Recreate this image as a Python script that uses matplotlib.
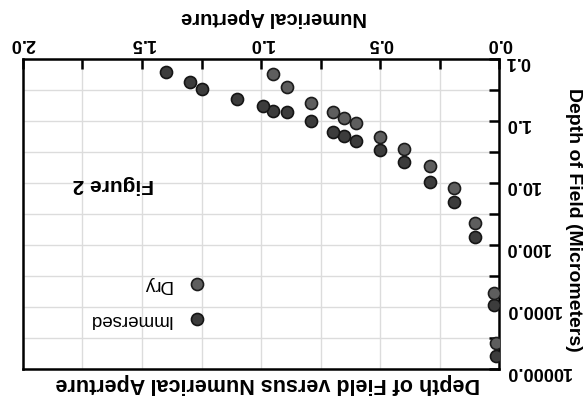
import numpy as np
import matplotlib.pyplot as plt
from matplotlib.ticker import FixedLocator, FixedFormatter, NullFormatter

plt.rcParams["font.family"] = ["Liberation Sans", "DejaVu Sans"]

dry_na  = [0.013, 0.021, 0.10, 0.19, 0.29, 0.40, 0.50, 0.60, 0.65, 0.70, 0.79, 0.89, 0.95]
dry_dof = [3800, 590, 44, 12.2, 5.3, 2.86, 1.79, 1.06, 0.90, 0.71, 0.51, 0.28, 0.177]

imm_na  = [0.013, 0.021, 0.10, 0.19, 0.29, 0.40, 0.50, 0.60, 0.65, 0.70, 0.79,
           0.89, 0.95, 0.99, 1.10, 1.25, 1.30, 1.40]
imm_dof = [6200, 930, 75, 20, 9.5, 4.6, 2.94, 2.08, 1.75, 1.49, 0.99,
           0.72, 0.68, 0.57, 0.44, 0.30, 0.23, 0.164]

xticks_major = [0.0, 0.5, 1.0, 1.5, 2.0]
xticks_minor = [0.25, 0.75, 1.25, 1.75]
yticks_major = [0.1, 1, 10, 100, 1000, 10000]
ytick_labels = ["0.1", "1.0", "10.0", "100.0", "1000.0", "10000.0"]
yticks_minor = [10 ** (k + 0.5) for k in range(-1, 4)]

fig = plt.figure(figsize=(5.86, 4.19), dpi=100)
ax = fig.add_axes([0.039, 0.119, 0.813, 0.740])

# whole chart is shown rotated by 180 degrees
ax.set_yscale("log")
ax.set_xlim(2.0, 0.0)
ax.set_ylim(10000, 0.1)

ax.scatter(imm_na, imm_dof, s=75, color="#3c3c3c", edgecolor="#151515",
           linewidth=1.2, zorder=3, label="Immersed")
ax.scatter(dry_na, dry_dof, s=75, color="#5e5e5e", edgecolor="#1c1c1c",
           linewidth=1.2, zorder=3, label="Dry")

ax.xaxis.set_major_locator(FixedLocator(xticks_major))
ax.xaxis.set_minor_locator(FixedLocator(xticks_minor))
ax.xaxis.set_major_formatter(FixedFormatter([f"{v:.1f}" for v in xticks_major]))
ax.yaxis.set_major_locator(FixedLocator(yticks_major))
ax.yaxis.set_major_formatter(FixedFormatter(ytick_labels))
ax.yaxis.set_minor_locator(FixedLocator(yticks_minor))
ax.yaxis.set_minor_formatter(NullFormatter())

ax.xaxis.tick_top()
ax.yaxis.tick_right()
ax.tick_params(which="both", direction="in", length=7, width=1.8, color="black")
ax.tick_params(axis="x", which="major", pad=5, labelsize=13, labelrotation=180)
ax.tick_params(axis="y", which="major", pad=4, labelsize=13, labelrotation=180)
for lab in ax.get_xticklabels() + ax.get_yticklabels():
    lab.set_fontweight("bold")

ax.grid(True, which="both", color="#dcdcdc", linewidth=1.0, zorder=0)
ax.set_axisbelow(True)
for sp in ax.spines.values():
    sp.set_linewidth(1.8)
    sp.set_color("black")

ax.text(0.528, 1.135, "Numerical Aperture", transform=ax.transAxes, rotation=180,
        ha="center", va="center", fontsize=14.5, fontweight="bold")
ax.text(1.155, 0.48, "Depth of Field (Micrometers)", transform=ax.transAxes,
        rotation=270, ha="center", va="center", fontsize=14, fontweight="bold")
ax.text(0.514, -0.047, "Depth of Field versus Numerical Aperture",
        transform=ax.transAxes, rotation=180, ha="center", va="center",
        fontsize=15.5, fontweight="bold")
ax.text(0.189, 0.594, "Figure 2", transform=ax.transAxes, rotation=180,
        ha="center", va="center", fontsize=15, fontweight="bold")

h, l = ax.get_legend_handles_labels()
leg = ax.legend([h[1], h[0]], [l[1], l[0]], markerfirst=False, frameon=False,
                loc="center right", bbox_to_anchor=(0.405, 0.218),
                borderaxespad=0, borderpad=0, labelspacing=0.95,
                handletextpad=0.35, fontsize=13.5)
for t in leg.get_texts():
    t.set_rotation(180)

plt.savefig("out.png", dpi=100)
